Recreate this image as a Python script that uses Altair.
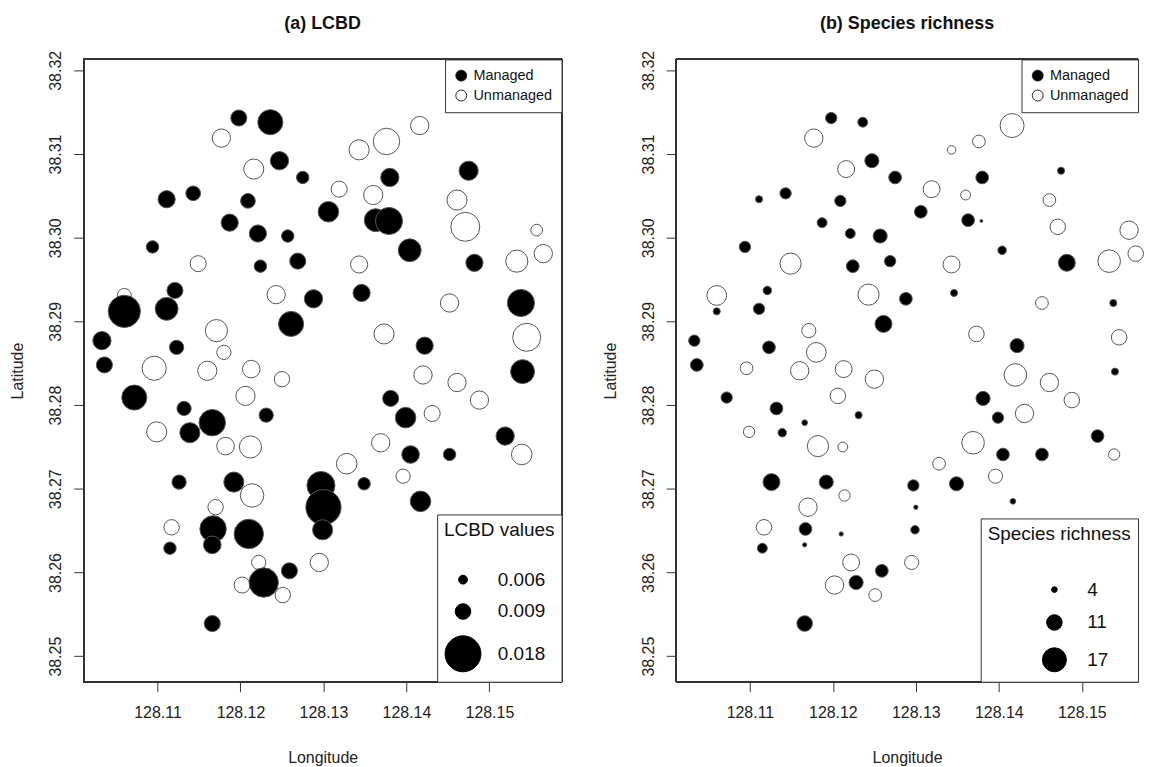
import altair as alt
import pandas as pd

lon = [128.1198, 128.1236, 128.1177, 128.1247, 128.1216, 128.1275, 128.1111, 128.1143, 128.1209, 128.1187,
       128.1221, 128.1257, 128.1094, 128.1149, 128.1224, 128.1269, 128.1060, 128.1060, 128.1121, 128.1111,
       128.1243, 128.1288, 128.1261, 128.1033, 128.1171, 128.1180, 128.1123, 128.1036, 128.1096, 128.1160,
       128.1213, 128.1250, 128.1072, 128.1132, 128.1206, 128.1231, 128.1099, 128.1139, 128.1166, 128.1182,
       128.1212, 128.1126, 128.1192, 128.1214, 128.1170, 128.1117, 128.1167, 128.1166, 128.1210, 128.1115,
       128.1222, 128.1202, 128.1228, 128.1251, 128.1259, 128.1166, 128.1297, 128.1300, 128.1299, 128.1295,
       128.1349, 128.1328, 128.1369, 128.1396, 128.1405, 128.1417, 128.1452, 128.1381, 128.1399, 128.1431,
       128.1420, 128.1461, 128.1488, 128.1540, 128.1519, 128.1539, 128.1416, 128.1376, 128.1343, 128.1380,
       128.1475, 128.1319, 128.1360, 128.1306, 128.1363, 128.1379, 128.1461, 128.1471, 128.1557, 128.1533,
       128.1565, 128.1404, 128.1482, 128.1343, 128.1346, 128.1452, 128.1538, 128.1373, 128.1545, 128.1422]

lat = [38.3143, 38.3138, 38.3119, 38.3092, 38.3082, 38.3072, 38.3046, 38.3053, 38.3044, 38.3018,
       38.3005, 38.3002, 38.2989, 38.2969, 38.2966, 38.2972, 38.2931, 38.2912, 38.2937, 38.2915,
       38.2932, 38.2927, 38.2897, 38.2877, 38.2889, 38.2863, 38.2869, 38.2848, 38.2844, 38.2841,
       38.2843, 38.2831, 38.2809, 38.2796, 38.2811, 38.2788, 38.2768, 38.2767, 38.2779, 38.2751,
       38.2750, 38.2708, 38.2708, 38.2692, 38.2678, 38.2654, 38.2652, 38.2633, 38.2646, 38.2629,
       38.2612, 38.2585, 38.2588, 38.2573, 38.2602, 38.2539, 38.2704, 38.2678, 38.2651, 38.2612,
       38.2706, 38.2730, 38.2755, 38.2715, 38.2741, 38.2685, 38.2741, 38.2808, 38.2785, 38.2790,
       38.2836, 38.2827, 38.2806, 38.2840, 38.2763, 38.2741, 38.3134, 38.3115, 38.3105, 38.3072,
       38.3080, 38.3058, 38.3051, 38.3031, 38.3021, 38.3020, 38.3045, 38.3013, 38.3009, 38.2972,
       38.2981, 38.2985, 38.2970, 38.2968, 38.2934, 38.2922, 38.2922, 38.2885, 38.2881, 38.2871]

status = list("MMUMUMMMMMMMMUMMUMMMUMMMUUMMUUUUMMUMUMMUUMMUUUMMMMUUMUMMMMMUMUUUMMMMMUUUUMMUUUUMMUUMMMUUUUUMMUMUMUUM")
status = ["Managed" if s == "M" else "Unmanaged" for s in status]

lcbd = [0.0092, 0.0132, 0.0102, 0.0102, 0.0110, 0.0076, 0.0097, 0.0086, 0.0086, 0.0097,
        0.0097, 0.0076, 0.0076, 0.0092, 0.0076, 0.0092, 0.0083, 0.0164, 0.0092, 0.0122,
        0.0102, 0.0102, 0.0132, 0.0102, 0.0119, 0.0084, 0.0084, 0.0092, 0.0128, 0.0106,
        0.0099, 0.0089, 0.0132, 0.0084, 0.0106, 0.0084, 0.0110, 0.0110, 0.0138, 0.0099,
        0.0119, 0.0084, 0.0110, 0.0125, 0.0089, 0.0089, 0.0138, 0.0099, 0.0151, 0.0076,
        0.0084, 0.0092, 0.0151, 0.0089, 0.0092, 0.0092, 0.0145, 0.0177, 0.0110, 0.0102,
        0.0076, 0.0112, 0.0102, 0.0084, 0.0099, 0.0112, 0.0076, 0.0092, 0.0112, 0.0092,
        0.0102, 0.0102, 0.0102, 0.0127, 0.0102, 0.0112, 0.0102, 0.0138, 0.0110, 0.0102,
        0.0106, 0.0092, 0.0106, 0.0112, 0.0122, 0.0141, 0.0110, 0.0149, 0.0073, 0.0119,
        0.0102, 0.0122, 0.0097, 0.0097, 0.0097, 0.0102, 0.0141, 0.0110, 0.0145, 0.0097]

richness = [8, 7, 13, 10, 12, 9, 5, 8, 8, 7,
            7, 10, 8, 15, 9, 8, 14, 5, 6, 8,
            15, 9, 12, 8, 10, 14, 9, 9, 9, 13,
            12, 13, 8, 9, 11, 5, 8, 6, 4, 15,
            7, 12, 10, 8, 13, 11, 9, 3, 3, 7,
            12, 13, 10, 9, 9, 11, 8, 3, 6, 10,
            10, 9, 16, 10, 9, 4, 9, 10, 8, 13,
            16, 13, 11, 5, 9, 8, 17, 9, 6, 9,
            5, 12, 7, 9, 9, 2, 9, 11, 13, 16,
            11, 6, 12, 12, 5, 9, 5, 11, 11, 10]

x_ticks = [128.11, 128.12, 128.13, 128.14, 128.15]
y_ticks = [38.25, 38.26, 38.27, 38.28, 38.29, 38.30, 38.31, 38.32]
lcbd_legend = [0.006, 0.009, 0.018]
rich_legend = [4, 11, 17]

df = pd.DataFrame({"lon": lon, "lat": lat, "status": status, "lcbd": lcbd, "rich": richness})

FONT = "Liberation Sans"
W, H = 480, 625
W2 = 464
LCBD_OFF = 0.00209
xdom = [128.1011, 128.1587]
xdom2 = [128.1011, 128.1011 + (xdom[1] - xdom[0]) * W2 / W]
ydom = [38.24695, 38.3213]
EDGE = "#333"


def x_enc(dom):
    return alt.X("lon:Q", scale=alt.Scale(domain=dom, nice=False, zero=False),
                 axis=alt.Axis(values=x_ticks, format=".2f", title="Longitude", grid=False,
                               domain=False, tickSize=10, tickColor=EDGE, labelPadding=13,
                               titlePadding=29, labelFontSize=16, titleFontSize=16,
                               titleFontWeight="normal", labelColor="#222", titleColor="#222",
                               labelFont=FONT, titleFont=FONT, labelFlush=False))


def y_enc():
    return alt.Y("lat:Q", scale=alt.Scale(domain=ydom, nice=False, zero=False),
                 axis=alt.Axis(values=y_ticks, format=".2f", title="Latitude", grid=False,
                               domain=False, tickSize=10, tickColor=EDGE, labelPadding=10,
                               labelAngle=-90, labelAlign="center", labelBaseline="bottom",
                               titlePadding=22, labelFontSize=16, titleFontSize=16,
                               titleFontWeight="normal", labelColor="#222", titleColor="#222",
                               labelFont=FONT, titleFont=FONT, labelFlush=False))


def fill_enc():
    return alt.Fill("status:N",
                    scale=alt.Scale(domain=["Managed", "Unmanaged"], range=["black", "white"]),
                    legend=alt.Legend(title=None, orient="top-right", offset=0, strokeColor=EDGE,
                                      fillColor="white", padding=9, symbolType="circle",
                                      symbolSize=120, symbolStrokeColor="#222",
                                      symbolStrokeWidth=1, labelFontSize=14.5, labelFont=FONT,
                                      labelColor="#111", labelOffset=5, rowPadding=4,
                                      cornerRadius=0))


def points(size, dom):
    return alt.Chart(df).mark_circle(opacity=1, stroke="#555", strokeWidth=1).encode(
        x=x_enc(dom), y=y_enc(), fill=fill_enc(), size=size)


def edges(width, right_side=True):
    base = alt.Chart(df)
    parts = [
        base.mark_rule(color=EDGE, strokeWidth=1).encode(
            x=alt.value(0), x2=alt.value(width), y=alt.value(0)),
        base.mark_rule(color=EDGE, strokeWidth=1).encode(
            x=alt.value(0), x2=alt.value(width), y=alt.value(H)),
        base.mark_rule(color=EDGE, strokeWidth=1).encode(
            x=alt.value(0), y=alt.value(0), y2=alt.value(H)),
    ]
    if right_side:
        parts.append(base.mark_rule(color=EDGE, strokeWidth=1).encode(
            x=alt.value(width), y=alt.value(0), y2=alt.value(H)))
    return parts


def title(t):
    return alt.TitleParams(t, fontSize=18, fontWeight="bold", font=FONT, color="#111",
                           offset=17, anchor="middle")


size_a = alt.Size("s:Q",
                  scale=alt.Scale(type="pow", exponent=2, domain=[0, 0.016], range=[0, 1315]),
                  legend=alt.Legend(title="LCBD values", orient="bottom-right", offset=0,
                                    values=[v - LCBD_OFF for v in lcbd_legend],
                                    labelExpr="format(datum.value + %g, '.3f')" % LCBD_OFF,
                                    strokeColor=EDGE, fillColor="white", padding=7,
                                    symbolType="circle", symbolFillColor="black",
                                    symbolStrokeColor="black", symbolStrokeWidth=1,
                                    titleFontSize=19, titleFontWeight="normal", titleFont=FONT,
                                    titleColor="#111", titlePadding=30, labelFontSize=19,
                                    labelFont=FONT, labelColor="#111", labelOffset=16,
                                    rowPadding=11, cornerRadius=0))

size_b = alt.Size("rich:Q",
                  scale=alt.Scale(type="pow", exponent=2, domain=[0, 17], range=[0, 581]),
                  legend=alt.Legend(title="Species richness", orient="bottom-right", offset=0,
                                    values=rich_legend, format="d",
                                    strokeColor=EDGE, fillColor="white", padding=7,
                                    symbolType="circle", symbolFillColor="black",
                                    symbolStrokeColor="black", symbolStrokeWidth=1,
                                    symbolOffset=54,
                                    titleFontSize=19, titleFontWeight="normal", titleFont=FONT,
                                    titleColor="#111", titlePadding=36, labelFontSize=19,
                                    labelFont=FONT, labelColor="#111", labelOffset=20,
                                    rowPadding=12, cornerRadius=0))

left = alt.layer(
    points(size_a, xdom).transform_calculate(s="datum.lcbd - %g" % LCBD_OFF),
    *edges(W, True)
).properties(width=W, height=H, title=title("(a) LCBD"))

# right panel is cut off on the right side in the reference
right = alt.layer(points(size_b, xdom2), *edges(W2, False)).properties(
    width=W2, height=H, title=title("(b) Species richness"))

chart = alt.hconcat(left, right, spacing=40).resolve_scale(
    size="independent", fill="independent", x="independent"
).resolve_legend(size="independent", fill="independent").properties(
    padding={"left": 2, "top": 5, "right": 0, "bottom": 0}, background="white"
).configure_view(stroke=None)

chart.save("out.html", embed_options={"renderer": "svg", "actions": False})
